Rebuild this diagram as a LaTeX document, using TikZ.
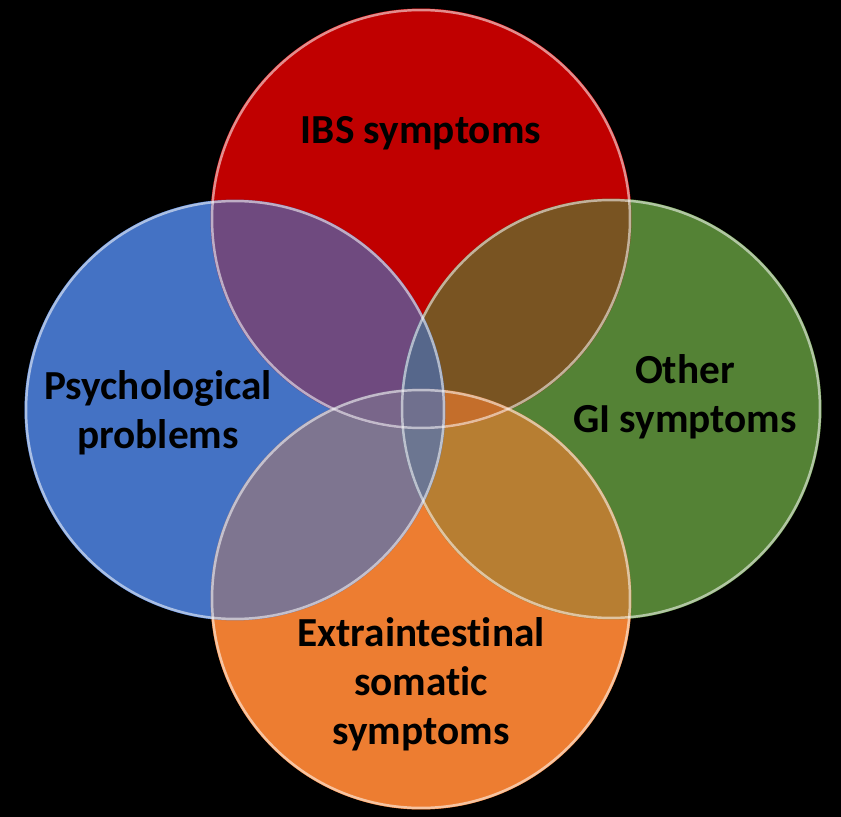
\documentclass[tikz,border=0pt]{standalone}
\usepackage{fontspec}
\setmainfont{Carlito}[Ligatures=NoCommon]
\usepackage{tikz}

\definecolor{ibsred}{HTML}{C00000}
\definecolor{psyblue}{HTML}{4472C4}
\definecolor{gigreen}{HTML}{548235}
\definecolor{somorange}{HTML}{ED7D31}

\begin{document}
\begin{tikzpicture}[x=0.02cm,y=-0.02cm]
\tikzset{lbl/.style={font=\bfseries\fontsize{23.5}{28}\selectfont,align=center,text=black}}
\tikzset{rim/.style={draw=white,draw opacity=0.55,line width=1.4pt}}
\fill[black] (0,0) rectangle (841,817);
\coordinate (r) at (421,219);
\coordinate (b) at (235,410);
\coordinate (g) at (611,409);
\coordinate (o) at (421,599);

% solid discs, lowest one last
\foreach \c/\col in {b/psyblue,o/somorange,g/gigreen,r/ibsred}
  \fill[\col] (\c) circle [radius=4.21cm];
% see-through discs, lowest one first
\foreach \c/\col in {r/ibsred,g/gigreen,o/somorange,b/psyblue}
  \fill[\col,fill opacity=0.65] (\c) circle [radius=4.21cm];
\foreach \c in {r,g,o,b}
  \path[rim] (\c) circle [radius=4.18cm];

\node (ibs) at (421,133) [lbl] {IBS symptoms};
\node (psych) at (158,413) [lbl] {Psychological\\problems};
\node (gi) at (685,397) [lbl] {Other\\GI symptoms};
\node (extra) at (421,684) [lbl] {Extraintestinal\\somatic\\symptoms};
\end{tikzpicture}
\end{document}
